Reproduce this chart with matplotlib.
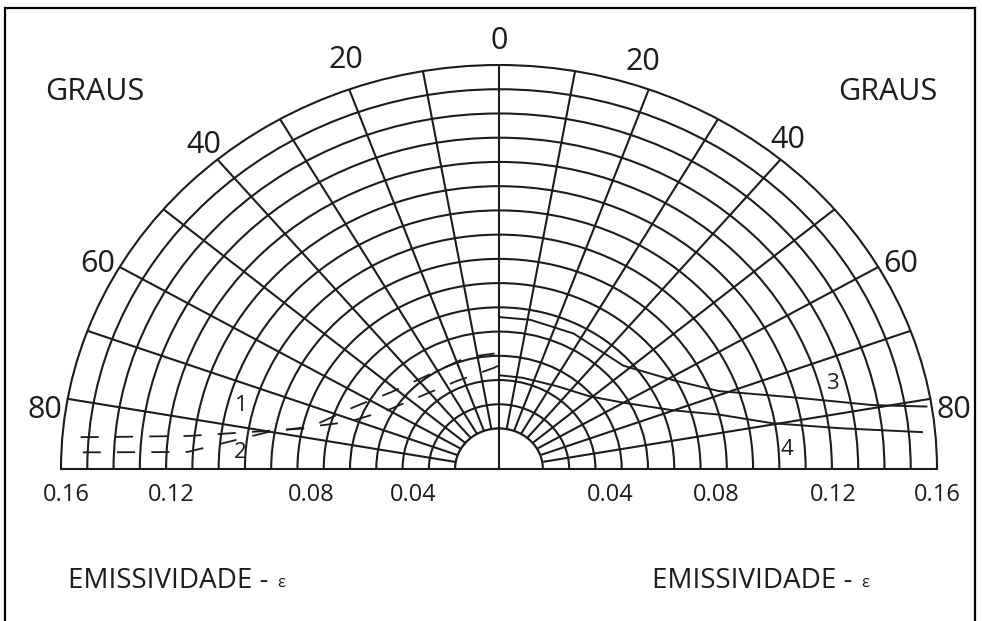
import numpy as np
import matplotlib.pyplot as plt
from matplotlib.lines import Line2D

plt.rcParams['font.family'] = ['Open Sans', 'DejaVu Sans']

# angle from the normal (degrees) and directional emissivity
# curves 1 and 2 sit on the left half, curves 3 and 4 on the right half
ang_1 = [2, 15, 52, 65, 77, 83.4, 84.9, 85.4]
eps_1 = [0.041, 0.041, 0.045, 0.054, 0.068, 0.112, 0.142, 0.157]
ang_2 = [0, 3, 24, 60, 71.4, 80, 86.6, 87.4, 87.6]
eps_2 = [0.036, 0.035, 0.033, 0.042, 0.054, 0.082, 0.112, 0.145, 0.158]
ang_3 = [0, 11, 27, 48, 61, 69, 75, 79.5, 81]
eps_3 = [0.056, 0.056, 0.056, 0.057, 0.069, 0.083, 0.108, 0.138, 0.158]
ang_4 = [0, 13.5, 33, 49, 60, 70, 75, 79.7, 82.6, 84.6]
eps_4 = [0.032, 0.032, 0.034, 0.039, 0.048, 0.064, 0.080, 0.099, 0.124, 0.155]

eps_tick_labels = ['0.04', '0.08', '0.12', '0.16']
angle_labels = ['80', '60', '40', '20', '0', '20', '40', '60', '80']

ink = '#1c1c1c'
lw = 1.5

fig = plt.figure(figsize=(9.82, 6.21), dpi=100)
W, H = 982, 621

# half disc: centre at (499, 469) px, 438 px wide radius, 404 px tall radius
ax = fig.add_axes([(499 - 438) / W, (H - 469 - 0.25 * 808) / H, 876 / W, 808 / H],
                  projection='polar')
ax.set_aspect('auto')
ax.set_theta_zero_location('N')
ax.set_theta_direction(-1)
ax.set_thetamin(-90)
ax.set_thetamax(90)
r0 = -0.0067
ax.set_ylim(r0, 0.16)

ax.set_thetagrids(np.arange(-80, 81, 10), labels=[''] * 17)
ax.set_rgrids(np.arange(0.01, 0.155, 0.01), labels=[''] * 15)
ax.grid(True, color=ink, lw=lw)
ax.set_axisbelow(True)
ax.tick_params(length=0)
for s in ax.spines.values():
    s.set_color(ink)
    s.set_linewidth(lw)

# small hub at the centre
th = np.linspace(-np.pi / 2, np.pi / 2, 200)
ax.fill_between(th, r0, 0.01, color='white', zorder=1)
ax.plot(th, np.full_like(th, 0.01), color=ink, lw=lw, zorder=2)
ax.plot([0, 0], [r0, 0.01], color=ink, lw=lw, zorder=2)

dash = (0, (10, 9))
ax.plot(-np.radians(ang_1), eps_1, color=ink, lw=1.3, ls=dash, zorder=3)
ax.plot(-np.radians(ang_2), eps_2, color=ink, lw=1.3, ls=dash, zorder=3)
ax.plot(np.radians(ang_3), eps_3, color=ink, lw=1.4, zorder=3)
ax.plot(np.radians(ang_4), eps_4, color=ink, lw=1.4, zorder=3)

# angle labels round the outside
lab_theta = [-82, -61, -40, -19, 0, 18, 39, 61, 82]
lab_r = [0.168, 0.168, 0.168, 0.172, 0.170, 0.170, 0.168, 0.168, 0.168]
for t, r, s in zip(lab_theta, lab_r, angle_labels):
    ax.text(np.radians(t), r, s, fontsize=22, ha='center', va='center',
            color=ink, clip_on=False)

# curve numbers
ax.text(np.radians(-75), 0.095, '1', fontsize=16, ha='center', va='center', color=ink)
ax.text(np.radians(-86), 0.092, '2', fontsize=16, ha='center', va='center', color=ink)
ax.text(np.radians(74.4), 0.125, '3', fontsize=16, ha='center', va='center', color=ink)
ax.text(np.radians(85.7), 0.103, '4', fontsize=16, ha='center', va='center', color=ink)

# emissivity scale under the baseline
left_x = [413, 311, 171, 66]
right_x = [610, 716, 833, 937]
for xl, xr, s in zip(left_x, right_x, eps_tick_labels):
    fig.text(xl / W, 1 - 495 / H, s, fontsize=17, ha='center', va='center', color=ink)
    fig.text(xr / W, 1 - 495 / H, s, fontsize=17, ha='center', va='center', color=ink)

fig.text(95 / W, 1 - 92 / H, 'GRAUS', fontsize=22, ha='center', va='center', color=ink)
fig.text(888 / W, 1 - 92 / H, 'GRAUS', fontsize=22, ha='center', va='center', color=ink)

fig.text(68 / W, 1 - 581 / H, 'EMISSIVIDADE -', fontsize=20, ha='left', va='center', color=ink)
fig.text(281 / W, 1 - 583 / H, 'ε', fontsize=12, ha='center', va='center', color=ink)
fig.text(652 / W, 1 - 581 / H, 'EMISSIVIDADE -', fontsize=20, ha='left', va='center', color=ink)
fig.text(865 / W, 1 - 583 / H, 'ε', fontsize=12, ha='center', va='center', color=ink)

# open frame round the figure
fy = 1 - 8 / H
fig.add_artist(Line2D([5 / W, 975 / W], [fy, fy], color='black', lw=1.6))
fig.add_artist(Line2D([5 / W, 5 / W], [0, fy], color='black', lw=1.6))
fig.add_artist(Line2D([975 / W, 975 / W], [0, fy], color='black', lw=1.6))

fig.savefig('out.png', dpi=100)
